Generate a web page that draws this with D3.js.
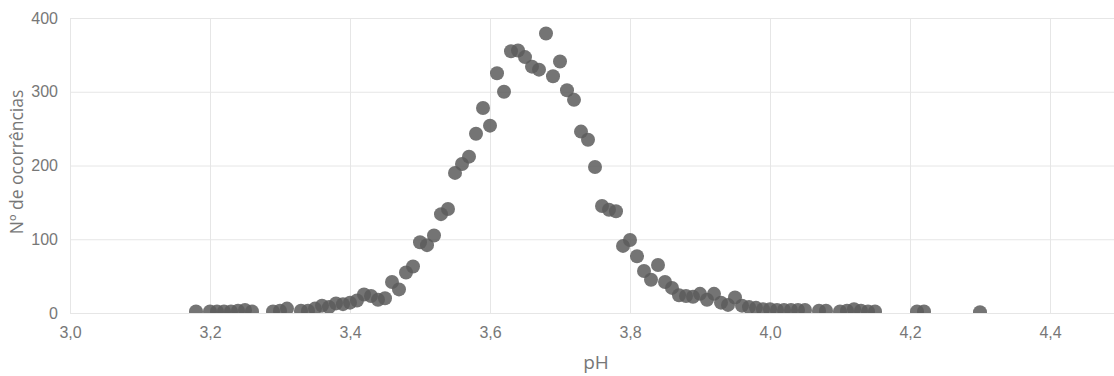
<!DOCTYPE html>
<html>
<head>
<meta charset="utf-8">
<script src="https://cdn.jsdelivr.net/npm/d3@7"></script>
<style>
    body { margin: 0; background: #fff; }
    svg { display: block; font-family: 'Open Sans', sans-serif; }
    .grid line { stroke: #e6e6e6; stroke-width: 1; }
    .grid path { display: none; }
    .axis path, .axis line { display: none; }
    .axis text { fill: #777; font-size: 16px; }
    .title { fill: #777; font-size: 17.5px; }
    .dot { fill: #5c5c5c; fill-opacity: 0.85; }
</style>
</head>
<body>
<svg id="chart" width="1114" height="376"></svg>
<script>
// pH readings and number of occurrences
const ph = [
    3.18, 3.20, 3.21, 3.22, 3.23, 3.24, 3.25, 3.26, 3.29, 3.30,
    3.31, 3.33, 3.34, 3.35, 3.36, 3.37, 3.38, 3.39, 3.40, 3.41,
    3.42, 3.43, 3.44, 3.45, 3.46, 3.47, 3.48, 3.49, 3.50, 3.51,
    3.52, 3.53, 3.54, 3.55, 3.56, 3.57, 3.58, 3.59, 3.60, 3.61,
    3.62, 3.63, 3.64, 3.65, 3.66, 3.67, 3.68, 3.69, 3.70, 3.71,
    3.72, 3.73, 3.74, 3.75, 3.76, 3.77, 3.78, 3.79, 3.80, 3.81,
    3.82, 3.83, 3.84, 3.85, 3.86, 3.87, 3.88, 3.89, 3.90, 3.91,
    3.92, 3.93, 3.94, 3.95, 3.96, 3.97, 3.98, 3.99, 4.00, 4.01,
    4.02, 4.03, 4.04, 4.05, 4.07, 4.08, 4.10, 4.11, 4.12, 4.13,
    4.14, 4.15, 4.21, 4.22, 4.30
];
const occurrences = [
    2, 2, 2, 2, 2, 3, 4, 2, 2, 3,
    6, 3, 3, 6, 10, 8, 13, 12, 14, 17,
    25, 23, 18, 20, 42, 32, 55, 63, 96, 92,
    105, 134, 141, 190, 202, 212, 243, 278, 254, 325,
    300, 355, 356, 347, 334, 330, 379, 321, 341, 302,
    289, 246, 235, 198, 145, 140, 138, 91, 99, 77,
    57, 45, 65, 42, 34, 24, 23, 22, 26, 18,
    26, 14, 11, 21, 10, 8, 7, 5, 5, 4,
    4, 4, 4, 4, 3, 3, 2, 3, 5, 3,
    2, 2, 2, 2, 1
];
const xTicks = [3.0, 3.2, 3.4, 3.6, 3.8, 4.0, 4.2, 4.4];
const yTicks = [0, 100, 200, 300, 400];

const svg = d3.select('#chart'),
    margin = {top: 18, right: 0, bottom: 63, left: 70},
    width = +svg.attr('width') - margin.left - margin.right,
    height = +svg.attr('height') - margin.top - margin.bottom;

const locale = d3.formatLocale({decimal: ',', thousands: '.', grouping: [3], currency: ['', '']});
const fmt = locale.format('.1f');

const x = d3.scaleLinear().domain([3.0, 4.5]).range([0, 1050]);
const y = d3.scaleLinear().domain([0, 400]).range([height, 0]);

const g = svg.append('g')
    .attr('transform', 'translate(' + margin.left + ',' + margin.top + ')');

g.append('clipPath').attr('id', 'plot')
    .append('rect').attr('width', width).attr('height', height);

g.append('g')
    .attr('class', 'grid')
    .attr('transform', 'translate(0,' + height + ')')
    .call(d3.axisBottom(x).tickValues(xTicks).tickSize(-height).tickFormat(''));

g.append('g')
    .attr('class', 'grid')
    .call(d3.axisLeft(y).tickValues(yTicks).tickSize(-width).tickFormat(''));

g.append('g')
    .attr('class', 'axis')
    .attr('transform', 'translate(0,' + height + ')')
    .call(d3.axisBottom(x).tickValues(xTicks).tickSize(0).tickPadding(14).tickFormat(fmt));

g.append('g')
    .attr('class', 'axis')
    .call(d3.axisLeft(y).tickValues(yTicks).tickSize(0).tickPadding(12));

const points = ph.map((p, i) => ({ph: p, n: occurrences[i]}));

g.append('g')
    .attr('clip-path', 'url(#plot)')
    .selectAll('.dot')
    .data(points)
    .enter().append('circle')
    .attr('class', 'dot')
    .attr('cx', d => x(d.ph))
    .attr('cy', d => y(d.n))
    .attr('r', 7);

svg.append('text')
    .attr('class', 'title')
    .attr('x', 596)
    .attr('y', 369)
    .attr('text-anchor', 'middle')
    .style('font-size', '19px')
    .text('pH');

svg.append('text')
    .attr('class', 'title')
    .attr('transform', 'translate(23,' + 162 + ') rotate(-90)')
    .attr('text-anchor', 'middle')
    .text('Nº de ocorrências');
</script>
</body>
</html>
